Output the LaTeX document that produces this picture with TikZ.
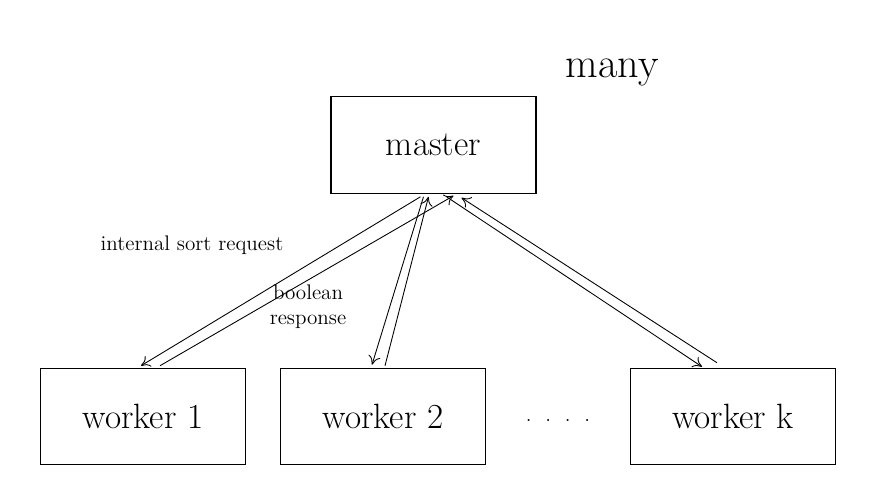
\documentclass[tikz,border=0pt]{standalone}
\usetikzlibrary{calc,arrows.meta}
\begin{document}
\begin{tikzpicture}[x=0.02cm, y=-0.02cm,
    box/.style={draw, line width=0.6pt, minimum width=4.1cm, minimum height=1.93cm, font=\fontsize{20}{24}\selectfont},
    link/.style={line width=0.5pt, -{To[length=5pt,width=7pt]}},
    note/.style={font=\large, align=center}]
    \useasboundingbox (0,0) rectangle (876,486);

    % Caixas
    \node[box] (master) at (433.5,145) {master};
    \node[box] (w1) at (143,416.5) {worker 1};
    \node[box] (w2) at (383,416.5) {worker 2};
    \node[box] (wk) at (733,416.5) {worker k};
    \node[font=\large] (dots) at (558,420) {.\ \ .\ \ .\ \ .};
    \node[font=\fontsize{24}{26}\selectfont] (many) at (612,72) {many};

    % Pedidos e respostas
    \draw[link] ($(master.south)+(-13,3)$) -- ($(w1.north)+(-2,-2)$);
    \draw[link] ($(w1.north)+(17,-2)$) -- ($(master.south)+(20,2)$);
    \draw[link] ($(master.south)+(-10,3)$) -- ($(w2.north)+(-11,-3)$);
    \draw[link] ($(w2.north)+(2,-2)$) -- ($(master.south)+(-5,3)$);
    \draw[link] ($(master.south)+(13,3)$) -- ($(wk.north)+(-31,-1)$);
    \draw[link] ($(wk.north)+(-16,-5)$) -- ($(master.south)+(28,4)$);

    % Rotulos
    \node[note] (req) at (192,245) {internal sort request};
    \node[note] (resp) at (308,307) {boolean\\response};
\end{tikzpicture}
\end{document}
